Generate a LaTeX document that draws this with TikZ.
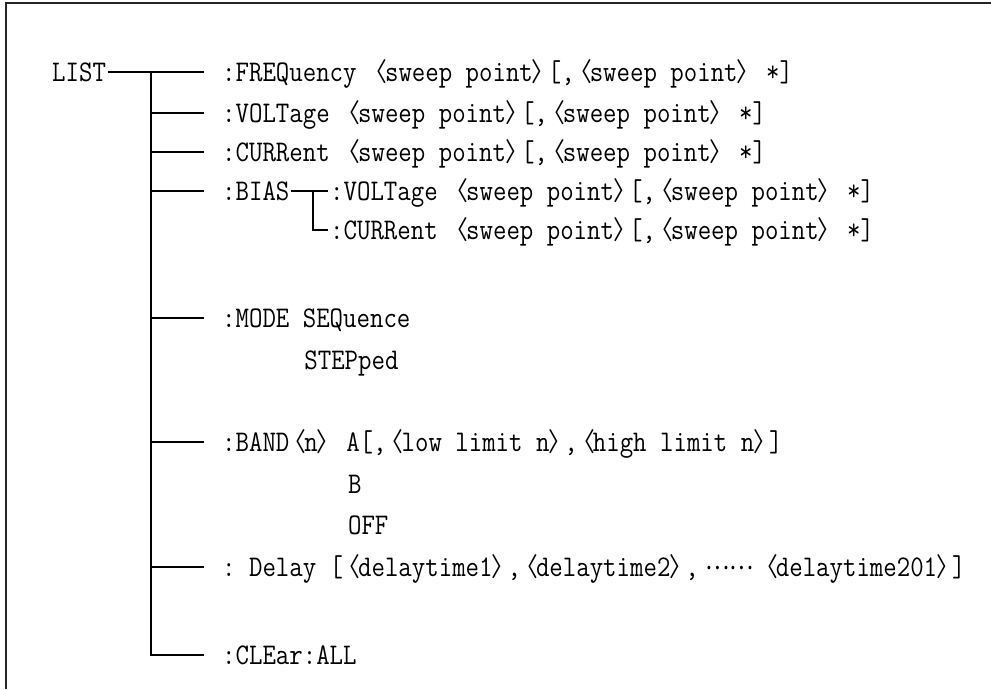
\documentclass[tikz,border=0pt]{standalone}
\usepackage{fontspec}
\setmainfont{Latin Modern Mono}[FakeStretch=0.87]
\newfontfamily\cjk{Noto Sans CJK SC}[FakeStretch=0.875]
\newcommand\la{\makebox[15pt][r]{\fontsize{26pt}{28pt}\cjk 〈\kern-2pt}}
\newcommand\ra{\makebox[15pt][l]{\kern-1pt\fontsize{26pt}{28pt}\cjk 〉}}
\newcommand\ellip{\makebox[62pt]{\raisebox{7pt}{\fontsize{26pt}{28pt}\cjk ……}}}
\frenchspacing
\tikzset{
  txt/.style={anchor=west, inner sep=0pt, text height=18pt, text depth=0pt,
              font=\fontsize{30pt}{32pt}\selectfont},
  tree/.style={line width=1.6pt, black},
  frame/.style={line width=2pt, black!85}
}
\begin{document}
\begin{tikzpicture}[x=1pt,y=-1pt]
\useasboundingbox (0,0) rectangle (991,689);
% frame (top and left edges visible)
\coordinate (fa) at (6,689);
\coordinate (fb) at (6,3);
\coordinate (fc) at (991,3);
\draw[frame] (fa) -- (fb) -- (fc);

% root
\node[txt] (list) at (52,72) {LIST};

% main branches
\node[txt] (freq)  at (222,72)  {:FREQuency \la sweep point\ra[,\la sweep point\ra{} *]};
\node[txt] (volt)  at (222,113) {:VOLTage \la sweep point\ra[,\la sweep point\ra{} *]};
\node[txt] (curr)  at (222,152) {:CURRent \la sweep point\ra[,\la sweep point\ra{} *]};
\node[txt] (bias)  at (222,191) {:BIAS};
\node[txt] (bvolt) at (330,191) {:VOLTage \la sweep point\ra[,\la sweep point\ra{} *]};
\node[txt] (bcurr) at (330,230) {:CURRent \la sweep point\ra[,\la sweep point\ra{} *]};
\node[txt] (mode)  at (222,318) {:MODE SEQuence};
\node[txt] (step)  at (304.2,360) {STEPped};
\node[txt] (band)  at (222,442) {:BAND\la n\ra{} A[,\la low limit n\ra,\la high limit n\ra]};
\node[txt] (bandb) at (347.9,484) {B};
\node[txt] (boff)  at (347.9,525) {OFF};
\node[txt] (delay) at (222,567) {: Delay [\la delaytime1\ra,\la delaytime2\ra,\ellip\la delaytime201\ra]};
\node[txt] (clear) at (222,655) {:CLEar:ALL};

% trunk
\coordinate (ttop) at (151,72);
\draw[tree] ([xshift=2pt]list.east) -- ([xshift=-18pt]freq.west);
\draw[tree] (ttop) -- (clear.west -| ttop) -- ([xshift=-18pt]clear.west);
\foreach \n in {volt,curr,bias,mode,band,delay}{
  \draw[tree] (\n.west -| ttop) -- ([xshift=-18pt]\n.west);
}

% BIAS sub-tree
\coordinate (sj) at ([xshift=-17pt]bvolt.west);
\draw[tree] ([xshift=1pt]bias.east) -- ([xshift=-2pt]bvolt.west);
\draw[tree] (sj) |- ([xshift=-2pt]bcurr.west);
\end{tikzpicture}
\end{document}
